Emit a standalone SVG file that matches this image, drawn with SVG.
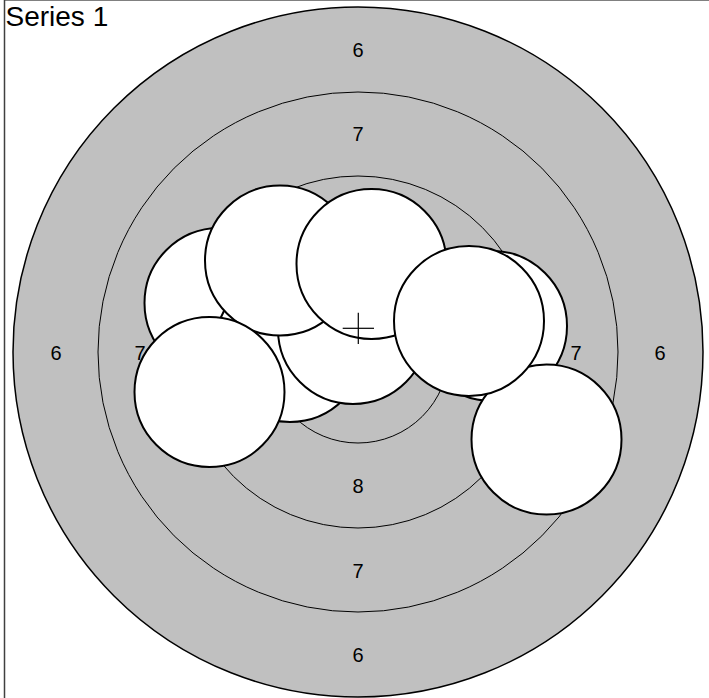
<svg xmlns="http://www.w3.org/2000/svg" width="709" height="698" viewBox="0 0 709 698">
<style>
.ring{fill:none;stroke:#000;stroke-width:1}
.lbl{font-family:"Liberation Sans",Arial,sans-serif;font-size:20px;fill:#000;text-anchor:middle}
.shot{fill:#fff;stroke:#000;stroke-width:2}
</style>
<rect x="0" y="0" width="709" height="698" fill="#fff"/>
<line x1="4" y1="0.5" x2="709" y2="0.5" stroke="#808080" stroke-width="1"/>
<line x1="4.5" y1="0" x2="4.5" y2="698" stroke="#404040" stroke-width="1.5"/>
<text x="5.5" y="26" font-family="Liberation Sans, Arial, sans-serif" font-size="28" fill="#000">Series 1</text>
<g id="target">
<circle cx="358" cy="352" r="345" fill="#c0c0c0" stroke="#000" stroke-width="1.5"/>
<circle class="ring" cx="358" cy="352" r="260"/>
<circle class="ring" cx="358" cy="352" r="176"/>
<circle class="ring" cx="358" cy="352" r="91"/>
</g>
<g id="labels">
<text class="lbl" x="358" y="57">6</text>
<text class="lbl" x="358" y="141">7</text>
<text class="lbl" x="358" y="493">8</text>
<text class="lbl" x="358" y="578">7</text>
<text class="lbl" x="358" y="662">6</text>
<text class="lbl" x="56" y="360">6</text>
<text class="lbl" x="140" y="360">7</text>
<text class="lbl" x="576" y="360">7</text>
<text class="lbl" x="660" y="360">6</text>
</g>
<g id="shots">
<circle class="shot" cx="219.5" cy="303" r="75"/>
<circle class="shot" cx="290" cy="347" r="75"/>
<circle class="shot" cx="353" cy="329" r="75"/>
<circle class="shot" cx="280" cy="260.5" r="75"/>
<circle class="shot" cx="371.5" cy="264" r="75"/>
<circle class="shot" cx="209.5" cy="392" r="75"/>
<circle class="shot" cx="492" cy="326" r="75"/>
<circle class="shot" cx="546.5" cy="439.5" r="75"/>
<circle class="shot" cx="469" cy="321" r="75"/>
</g>
<g id="crosshair" stroke="#000" stroke-width="1.2">
<line x1="342.7" y1="328.3" x2="374" y2="328.3"/>
<line x1="358.3" y1="312.7" x2="358.3" y2="344"/>
</g>
</svg>
